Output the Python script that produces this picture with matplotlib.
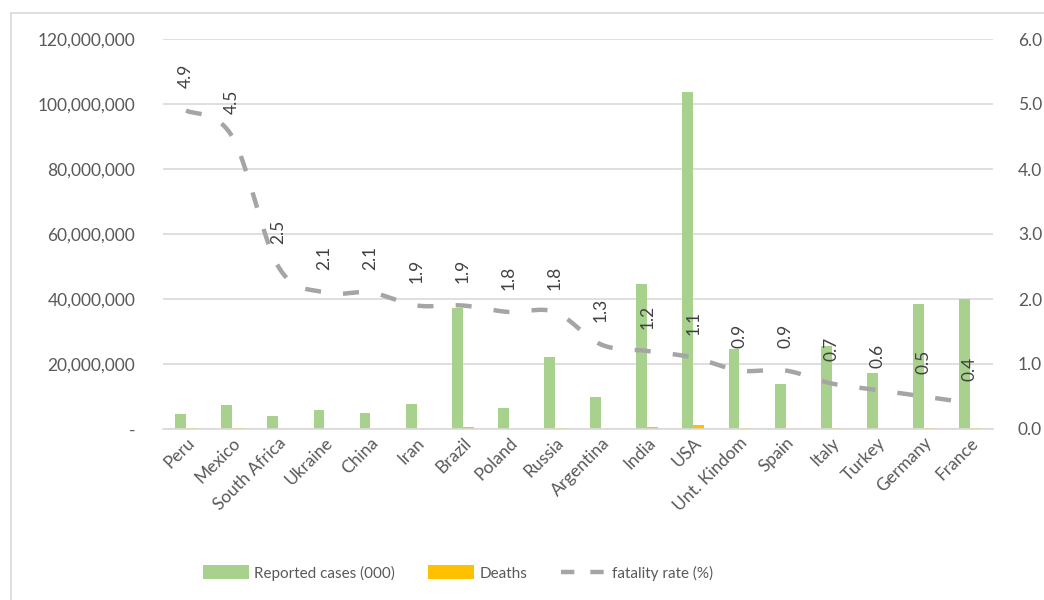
import matplotlib
matplotlib.use("Agg")
import matplotlib.pyplot as plt
import numpy as np
from matplotlib.path import Path
from matplotlib.patches import Patch
from matplotlib.lines import Line2D
from matplotlib.ticker import FuncFormatter, MultipleLocator

countries = ["Peru", "Mexico", "South Africa", "Ukraine", "China", "Iran", "Brazil",
             "Poland", "Russia", "Argentina", "India", "USA", "Unt. Kindom", "Spain",
             "Italy", "Turkey", "Germany", "France"]
cases = [4_500_000, 7_400_000, 4_050_000, 5_700_000, 4_900_000, 7_600_000, 37_200_000,
         6_400_000, 22_200_000, 10_000_000, 44_700_000, 103_800_000, 24_600_000,
         13_800_000, 25_500_000, 17_200_000, 38_400_000, 40_000_000]
deaths = [219_000, 332_000, 102_000, 110_000, 101_000, 145_000, 697_000,
          119_000, 395_000, 130_000, 531_000, 1_120_000, 205_000,
          119_000, 188_000, 101_000, 166_000, 162_000]
fatality = [4.9, 4.5, 2.5, 2.1, 2.1, 1.9, 1.9, 1.8, 1.8, 1.3, 1.2, 1.1, 0.9, 0.9,
            0.7, 0.6, 0.5, 0.4]

GREEN = "#A9D18E"
ORANGE = "#FFC000"
GREY = "#A5A5A5"
TEXT = "#595959"
GRID = "#D9D9D9"

plt.rcParams["font.family"] = ["Lato", "DejaVu Sans"]

fig = plt.figure(figsize=(10.44, 6.0), dpi=100)
ax = fig.add_axes([163 / 1044, 1 - 429 / 600, 830 / 1044, 390 / 600])
ax2 = ax.twinx()

x = np.arange(len(countries))
w = 0.235
ax.bar(x - w / 2, cases, width=w, color=GREEN, zorder=2)
ax.bar(x + w / 2, deaths, width=w, color=ORANGE, zorder=2)

ax.set_xlim(-0.5, len(countries) - 0.5)
ax.set_ylim(0, 120_000_000)
ax.yaxis.set_major_locator(MultipleLocator(20_000_000))
ax.yaxis.set_major_formatter(FuncFormatter(lambda v, p: "-" if v == 0 else f"{v:,.0f}"))
ax.grid(axis="y", color=GRID, linewidth=1.2, zorder=0)
ax.set_axisbelow(True)
for s in ["top", "right", "left"]:
    ax.spines[s].set_visible(False)
ax.spines["bottom"].set_color(GRID)
ax.spines["bottom"].set_linewidth(1.2)
ax.tick_params(axis="y", length=0, labelsize=12.5, labelcolor=TEXT, pad=20)
ax.tick_params(axis="x", length=0, labelsize=12.5, labelcolor=TEXT, pad=4)
ax.set_xticks(x)
ax.set_xticklabels(countries, rotation=45, ha="right", rotation_mode="anchor")

ax2.set_ylim(0, 6)
ax2.yaxis.set_major_locator(MultipleLocator(1))
ax2.yaxis.set_major_formatter(FuncFormatter(lambda v, p: f"{v:.1f}"))
ax2.tick_params(axis="y", length=0, labelsize=12.5, labelcolor=TEXT, pad=18)
for s in ax2.spines.values():
    s.set_visible(False)

# smoothed fatality-rate curve: Catmull-Rom segments as cubic Beziers, flattened
pts = np.column_stack([x, fatality]).astype(float)
verts = [tuple(pts[0])]
codes = [Path.MOVETO]
t = 1.0 / 6.0
for i in range(len(pts) - 1):
    p0 = pts[i - 1] if i > 0 else pts[i]
    p1, p2 = pts[i], pts[i + 1]
    p3 = pts[i + 2] if i + 2 < len(pts) else pts[i + 1]
    c1 = p1 + (p2 - p0) * t
    c2 = p2 - (p3 - p1) * t
    verts += [tuple(c1), tuple(c2), tuple(p2)]
    codes += [Path.CURVE4] * 3
smooth = np.vstack([seg(np.linspace(0, 1, 30))
                    for seg, _ in Path(verts, codes).iter_bezier()])
ax2.plot(smooth[:, 0], smooth[:, 1], color=GREY, linewidth=3.2,
         linestyle=(0, (3.6, 5.0)), dash_capstyle="butt", zorder=3)

for xi, v in zip(x, fatality):
    ax2.annotate(f"{v:.1f}", (xi, v), xytext=(0, 16), textcoords="offset points",
                 rotation=90, ha="center", va="bottom", fontsize=12.5, color="#404040")

handles = [Patch(facecolor=GREEN, edgecolor="none"),
           Patch(facecolor=ORANGE, edgecolor="none"),
           Line2D([0], [0], color=GREY, linewidth=3.2, linestyle=(0, (3.0, 3.6)),
                  dash_capstyle="butt")]
fig.legend(handles, ["Reported cases (000)", "Deaths", "fatality rate (%)"],
           loc="center", bbox_to_anchor=(458 / 1044, 1 - 573 / 600), ncol=3,
           frameon=False, fontsize=11, handlelength=3.0, handleheight=1.0,
           columnspacing=2.2, handletextpad=0.35, labelcolor=TEXT)

# chart-area border
fig.add_artist(Line2D([11 / 1044, 11 / 1044], [0, 1 - 13 / 600], transform=fig.transFigure,
                      color=GRID, linewidth=1.2))
fig.add_artist(Line2D([11 / 1044, 1], [1 - 13 / 600, 1 - 13 / 600], transform=fig.transFigure,
                      color=GRID, linewidth=1.2))

fig.savefig("out.png", dpi=100, facecolor="white")
